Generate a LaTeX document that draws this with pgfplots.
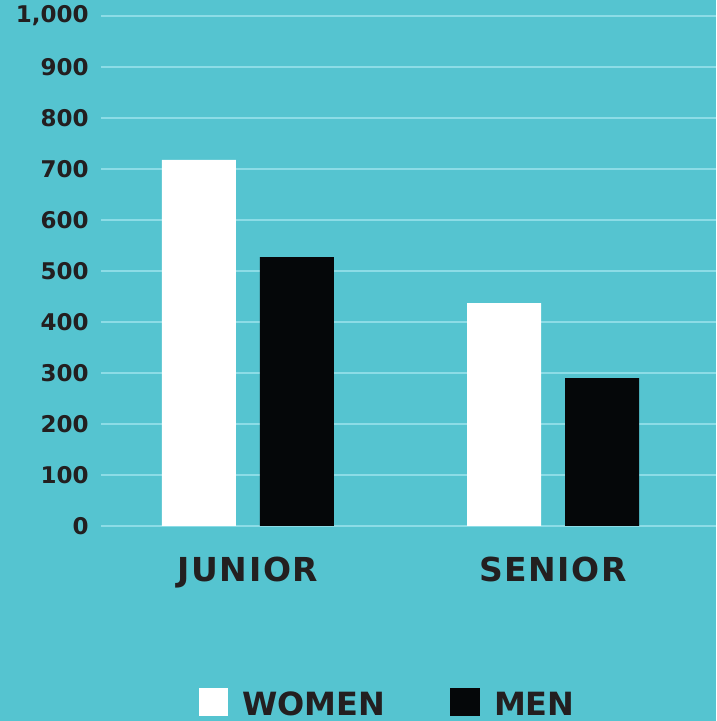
\documentclass[border=0pt]{standalone}
\usepackage{fontspec}
\setmainfont{DejaVu Sans}
\usepackage{pgfplots}
\pgfplotsset{compat=1.18}
\definecolor{bgcol}{RGB}{85,196,208}
\definecolor{gridcol}{RGB}{140,220,230}
\definecolor{txt}{RGB}{35,31,32}
\definecolor{barblack}{RGB}{5,7,9}
\begin{document}
\begin{tikzpicture}
\fill[bgcol] (0,0) rectangle (358pt,360.5pt);
\useasboundingbox (0,0) rectangle (358pt,360.5pt);
\begin{axis}[
  at={(50.5pt,97.5pt)}, anchor=south west,
  scale only axis, width=307.5pt, height=255pt,
  ybar=12pt, bar width=37pt,
  xmin=-0.481, xmax=1.534, ymin=0, ymax=1000,
  xtick={0,1}, xticklabels={JUNIOR,SENIOR},
  ytick={0,100,...,1000},
  ymajorgrids, grid style={gridcol, line width=1pt},
  axis line style={draw=none}, major tick length=0pt,
  tick label style={text=txt},
  yticklabel style={font=\fontsize{11.5}{12}\selectfont\bfseries, anchor=east, inner sep=0pt, xshift=-6pt},
  xticklabel style={font=\fontsize{16.5}{18}\selectfont\bfseries\addfontfeature{LetterSpace=5}, anchor=base, inner sep=0pt, yshift=-28pt},
  /pgf/number format/assume math mode=true,
  /pgf/number format/1000 sep={,},
  legend columns=2,
  legend style={at={(0.468,-0.351)}, anchor=center, draw=none, fill=none, font=\fontsize{16}{18}\selectfont\bfseries, text=txt,
    /tikz/every odd column/.append style={column sep=5pt},
    /tikz/every even column/.append style={column sep=30.5pt}},
]
\addplot[fill=white, draw=none, legend image code/.code={\fill[white] (0pt,-5.5pt) rectangle (14.5pt,8.5pt);}] coordinates {(0,718) (1,437)};
\addplot[fill=barblack, draw=none, legend image code/.code={\fill[barblack] (0pt,-5.5pt) rectangle (15pt,8.5pt);}] coordinates {(0,527) (1,290)};
\legend{WOMEN, MEN}
\end{axis}
\end{tikzpicture}
\end{document}
